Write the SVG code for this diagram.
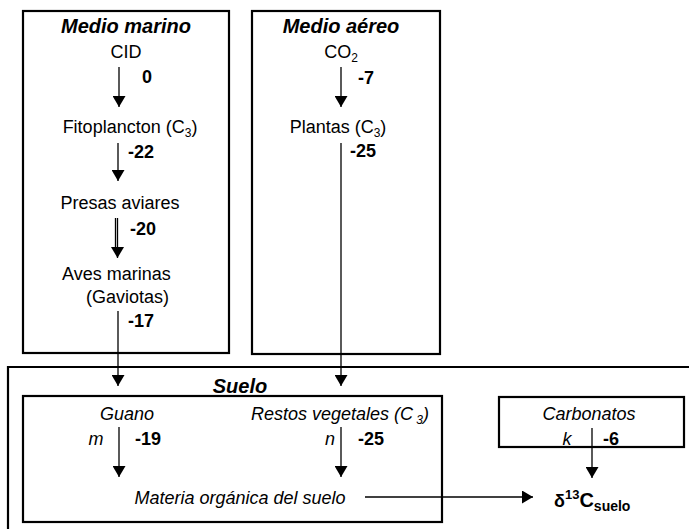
<svg xmlns="http://www.w3.org/2000/svg" width="689" height="529" viewBox="0 0 689 529">
<style>
  text { font-family: "Liberation Sans", Arial, sans-serif; font-size: 18px; fill: #000; }
  .t { font-weight: bold; font-style: italic; font-size: 20px; }
  .b { font-weight: bold; }
  .i { font-style: italic; }
  .box { fill: none; stroke: #000; stroke-width: 2.2; }
  .ln { stroke: #000; stroke-width: 1.3; fill: none; }
  .ar { stroke: #000; stroke-width: 1.3; fill: none; marker-end: url(#ah); }
</style>
<defs>
  <marker id="ah" viewBox="0 0 11 13" refX="11" refY="6.5" markerWidth="11" markerHeight="13" markerUnits="userSpaceOnUse" orient="auto">
    <path d="M0,0 L11,6.5 L0,13 Z" fill="#000"/>
  </marker>
</defs>

<g id="medio-marino">
  <rect class="box" x="23" y="11" width="206" height="342"/>
  <text class="t" x="126" y="33" text-anchor="middle">Medio marino</text>
  <text x="126" y="58" text-anchor="middle">CID</text>
  <text x="130" y="133" text-anchor="middle">Fitoplancton (C<tspan font-size="12" dy="4">3</tspan><tspan dy="-4">)</tspan></text>
  <text x="120" y="209" text-anchor="middle">Presas aviares</text>
  <text x="62" y="280">Aves marinas</text>
  <text x="86" y="303">(Gaviotas)</text>
</g>

<g id="medio-aereo">
  <rect class="box" x="252" y="11" width="188" height="343"/>
  <text class="t" x="341" y="33" text-anchor="middle">Medio aéreo</text>
  <text x="341" y="58" text-anchor="middle">CO<tspan font-size="12" dy="4">2</tspan></text>
  <text x="338" y="133" text-anchor="middle">Plantas (C<tspan font-size="12" dy="4">3</tspan><tspan dy="-4">)</tspan></text>
</g>

<g id="suelo">
  <path class="box" d="M8,529 L8,367 L689,367"/>
  <text class="t" x="240" y="393" text-anchor="middle">Suelo</text>
</g>

<g id="suelo-organico">
  <rect class="box" x="23" y="396" width="419" height="126"/>
  <text class="i" x="127" y="420" text-anchor="middle">Guano</text>
  <text class="i" x="340" y="420" text-anchor="middle" font-size="18.5">Restos vegetales (C<tspan font-size="12" dy="4"> 3</tspan><tspan dy="-4">)</tspan></text>
  <text class="i" x="96" y="445" text-anchor="middle">m</text>
  <text class="i" x="330" y="445" text-anchor="middle">n</text>
  <text class="i" x="240" y="504" text-anchor="middle">Materia orgánica del suelo</text>
</g>

<g id="carbonatos">
  <rect class="box" x="499" y="397" width="185" height="50"/>
  <text class="i" x="589" y="420" text-anchor="middle">Carbonatos</text>
  <text class="i" x="567" y="445" text-anchor="middle">k</text>
</g>

<g id="delta">
  <text class="b" x="554" y="507" font-size="20">δ<tspan font-size="13" dy="-8">13</tspan><tspan font-size="20" dy="8">C</tspan><tspan font-size="14" dy="4">suelo</tspan></text>
</g>

<g id="connectors">
  <line class="ar" x1="119" y1="67" x2="119" y2="107"/>
  <line class="ar" x1="118" y1="143" x2="118" y2="181"/>
  <line class="ln" x1="115.5" y1="218" x2="115.5" y2="250"/>
  <line class="ar" x1="117.5" y1="218" x2="117.5" y2="258"/>
  <line class="ar" x1="118" y1="311" x2="118" y2="386"/>
  <line class="ar" x1="341" y1="67" x2="341" y2="107"/>
  <line class="ar" x1="341" y1="143" x2="341" y2="386"/>
  <line class="ar" x1="119" y1="427" x2="119" y2="477"/>
  <line class="ar" x1="341" y1="427" x2="341" y2="477"/>
  <line class="ar" x1="592" y1="428" x2="592" y2="478"/>
  <line class="ar" x1="365" y1="497" x2="533" y2="497"/>
  <text class="b" x="142" y="83">0</text>
  <text class="b" x="128" y="158">-22</text>
  <text class="b" x="130" y="235">-20</text>
  <text class="b" x="128" y="327">-17</text>
  <text class="b" x="358" y="84">-7</text>
  <text class="b" x="350" y="157">-25</text>
  <text class="b" x="135" y="445">-19</text>
  <text class="b" x="358" y="445">-25</text>
  <text class="b" x="603" y="445">-6</text>
</g>
</svg>
